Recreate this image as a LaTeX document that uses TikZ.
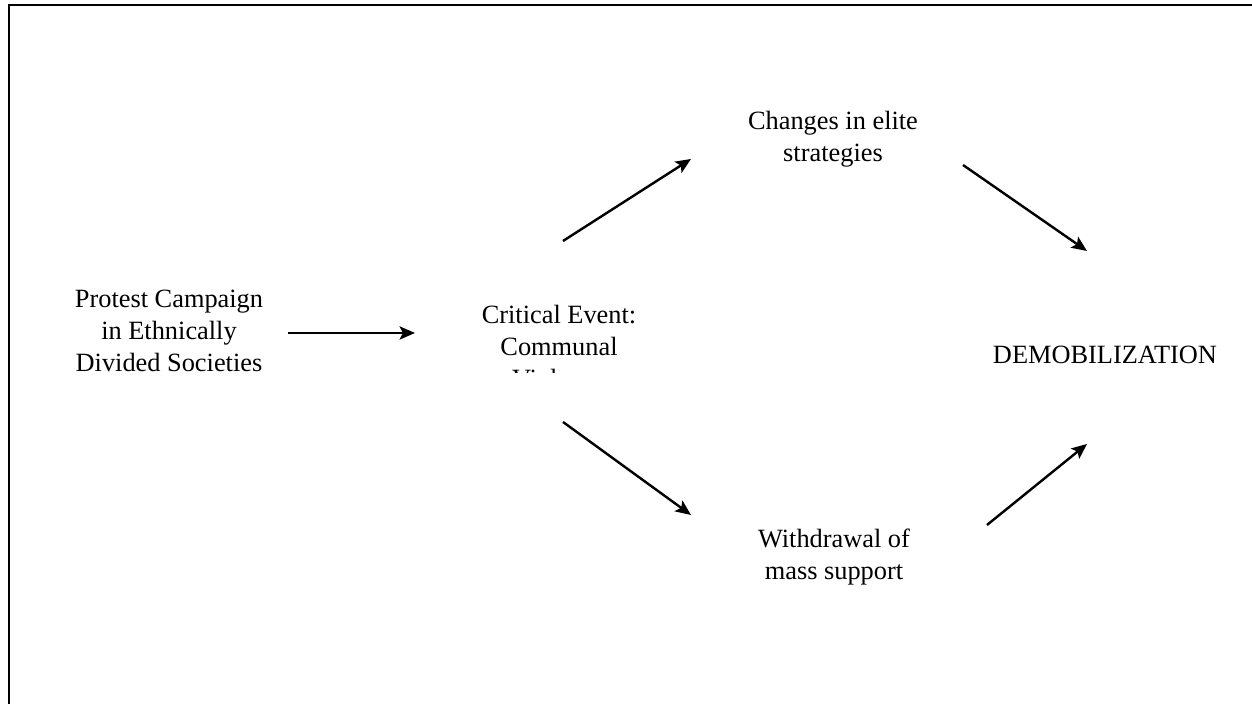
\documentclass[tikz,border=0pt]{standalone}
\usepackage{fontspec}
\setmainfont{Liberation Serif}
\usetikzlibrary{arrows.meta}

\begin{document}
\begin{tikzpicture}[
    flow/.style={line width=1.1pt, -{Stealth[length=7pt, width=6pt, inset=1.5pt]}},
    stage/.style={anchor=base, align=center, inner sep=0pt, font=\fontsize{12}{14.7}\selectfont}
]
\useasboundingbox (0,0) rectangle (20.032,11.264);

% frame, cut off at right and bottom
\draw[line width=1.3pt] (0.144,-0.5) -- (0.144,11.184) -- (20.6,11.184);

% base = baseline of the last line
\node[stage] (protest) at (2.704,5.312) {Protest Campaign\\in Ethnically\\Divided Societies};

\begin{scope}
    \clip (7.6,5.296) rectangle (10.4,7.0);
    \node[stage] (critical) at (8.944,5.056) {Critical Event:\\Communal\\Violence};
\end{scope}

\node[stage] (elite) at (13.328,8.672) {Changes in elite\\strategies};
\node[stage] (mass) at (13.344,1.984) {Withdrawal of\\mass support};
\node[stage] (demob) at (17.68,5.44) {DEMOBILIZATION};

% arrow ends
\coordinate (protest-out) at (4.608,5.936);
\coordinate (critical-in) at (6.64,5.936);
\coordinate (critical-up) at (9.008,7.408);
\coordinate (elite-in) at (11.056,8.72);
\coordinate (critical-down) at (9.008,4.512);
\coordinate (mass-in) at (11.056,3.024);
\coordinate (elite-out) at (15.408,8.624);
\coordinate (demob-up) at (17.392,7.248);
\coordinate (mass-out) at (15.792,2.864);
\coordinate (demob-down) at (17.392,4.16);

\draw[flow] (protest-out) -- (critical-in);
\draw[flow] (critical-up) -- (elite-in);
\draw[flow] (critical-down) -- (mass-in);
\draw[flow] (elite-out) -- (demob-up);
\draw[flow] (mass-out) -- (demob-down);

\end{tikzpicture}
\end{document}
